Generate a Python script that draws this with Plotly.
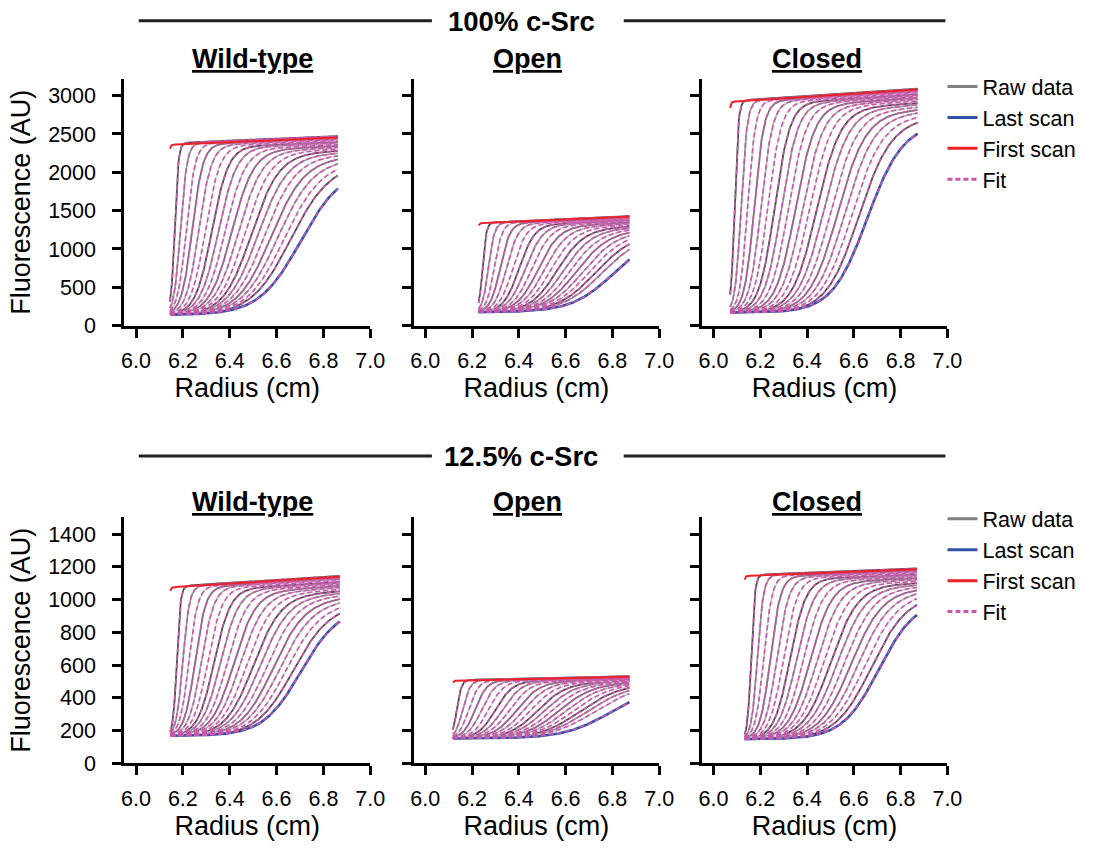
import numpy as np
import plotly.graph_objects as go

# ---------------- data ----------------
row_titles = ["100% c-Src", "12.5% c-Src"]
panel_titles = ["Wild-type", "Open", "Closed"]
x_ticks = [6.0, 6.2, 6.4, 6.6, 6.8, 7.0]
y_ticks_top = [0, 500, 1000, 1500, 2000, 2500, 3000]
y_ticks_bottom = [0, 200, 400, 600, 800, 1000, 1200, 1400]
legend_names = ["Raw data", "Last scan", "First scan", "Fit"]

# per panel: WT100, Open100, Closed100, WT12.5, Open12.5, Closed12.5
meniscus_r = [6.145, 6.228, 6.071, 6.146, 6.118, 6.133]
bottom_r = [6.862, 6.873, 6.873, 6.870, 6.873, 6.870]
baseline = [140, 175, 170, 168, 152, 148]
plateau_slope = [130, 135, 200, 90, 33, 55]          # AU per cm along the cell
first_scan_mid = [6.130, 6.213, 6.057, 6.131, 6.104, 6.118]
first_scan_plateau = [2360, 1335, 2920, 1075, 505, 1145]

mids_wt100 = [6.165, 6.19, 6.215, 6.24, 6.268, 6.296, 6.324, 6.352, 6.38, 6.408,
              6.436, 6.464, 6.492, 6.52, 6.548, 6.576, 6.604, 6.632, 6.658, 6.70]
widths_wt100 = [0.008, 0.014, 0.019, 0.023, 0.027, 0.031, 0.035, 0.039, 0.043, 0.047,
                0.051, 0.055, 0.059, 0.063, 0.067, 0.071, 0.075, 0.079, 0.083, 0.088]
plateaus_wt100 = [2380, 2370, 2360, 2350, 2335, 2320, 2305, 2290, 2270, 2250,
                  2230, 2210, 2190, 2165, 2140, 2110, 2080, 2050, 2020, 1960]

mids_open100 = [6.245, 6.27, 6.295, 6.32, 6.347, 6.374, 6.401, 6.428, 6.455, 6.482, 6.509,
                6.536, 6.563, 6.59, 6.617, 6.644, 6.671, 6.698, 6.725, 6.752, 6.80]
widths_open100 = [0.008, 0.013, 0.017, 0.021, 0.025, 0.029, 0.033, 0.037, 0.041, 0.045, 0.049,
                  0.053, 0.057, 0.061, 0.065, 0.069, 0.073, 0.077, 0.081, 0.085, 0.090]
plateaus_open100 = [1340, 1335, 1330, 1320, 1310, 1300, 1290, 1280, 1270, 1255, 1240,
                    1225, 1210, 1195, 1180, 1165, 1150, 1135, 1120, 1105, 1080]

mids_closed100 = [6.09, 6.118, 6.146, 6.174, 6.203, 6.232, 6.261, 6.29, 6.32, 6.35,
                  6.38, 6.41, 6.44, 6.47, 6.5, 6.53, 6.56, 6.59, 6.62, 6.655]
widths_closed100 = [0.008, 0.013, 0.017, 0.021, 0.025, 0.029, 0.033, 0.036, 0.039, 0.042,
                    0.045, 0.048, 0.051, 0.054, 0.057, 0.060, 0.063, 0.066, 0.069, 0.075]
plateaus_closed100 = [2930, 2920, 2910, 2900, 2890, 2875, 2860, 2845, 2830, 2810,
                      2790, 2770, 2745, 2720, 2690, 2660, 2630, 2590, 2550, 2470]

mids_wt12 = [6.174, 6.2, 6.226, 6.252, 6.279, 6.306, 6.333, 6.36, 6.388, 6.416,
             6.444, 6.472, 6.5, 6.528, 6.556, 6.584, 6.612, 6.64, 6.668, 6.70]
widths_wt12 = [0.008, 0.014, 0.019, 0.023, 0.027, 0.031, 0.035, 0.039, 0.043, 0.047,
               0.051, 0.055, 0.059, 0.062, 0.065, 0.068, 0.071, 0.074, 0.077, 0.080]
plateaus_wt12 = [1080, 1075, 1070, 1065, 1060, 1052, 1044, 1036, 1028, 1018,
                 1008, 998, 988, 976, 964, 950, 936, 920, 904, 885]

mids_open12 = [6.135, 6.16, 6.186, 6.213, 6.241, 6.27, 6.3, 6.33, 6.36, 6.39, 6.42,
               6.45, 6.48, 6.51, 6.54, 6.57, 6.6, 6.63, 6.66, 6.69, 6.72, 6.79]
widths_open12 = [0.010, 0.016, 0.021, 0.025, 0.029, 0.033, 0.037, 0.041, 0.045, 0.049, 0.053,
                 0.057, 0.061, 0.065, 0.069, 0.073, 0.077, 0.081, 0.085, 0.089, 0.093, 0.100]
plateaus_open12 = [508, 506, 504, 502, 500, 498, 496, 494, 492, 489, 486,
                   483, 480, 477, 474, 471, 468, 465, 462, 458, 454, 446]

mids_closed12 = [6.161, 6.188, 6.215, 6.243, 6.271, 6.299, 6.327, 6.355, 6.384, 6.413,
                 6.442, 6.471, 6.5, 6.529, 6.558, 6.587, 6.616, 6.645, 6.674, 6.705]
widths_closed12 = [0.008, 0.013, 0.018, 0.022, 0.026, 0.030, 0.034, 0.038, 0.042, 0.046,
                   0.050, 0.054, 0.058, 0.061, 0.064, 0.067, 0.070, 0.073, 0.076, 0.078]
plateaus_closed12 = [1150, 1145, 1140, 1135, 1128, 1121, 1114, 1106, 1098, 1090,
                     1081, 1072, 1062, 1052, 1041, 1030, 1018, 1005, 990, 958]

scan_mids = [mids_wt100, mids_open100, mids_closed100, mids_wt12, mids_open12, mids_closed12]
scan_widths = [widths_wt100, widths_open100, widths_closed100, widths_wt12, widths_open12, widths_closed12]
scan_plateaus = [plateaus_wt100, plateaus_open100, plateaus_closed100,
                 plateaus_wt12, plateaus_open12, plateaus_closed12]

# ---------------- styling ----------------
W, H = 1106, 849
FONT = "Arial, Liberation Sans, Helvetica, sans-serif"
RAW_SHADES = ["#4a4a4a", "#9a9a9a", "#cfcfcf", "#737373", "#b4b4b4", "#e2e2e2"]
RAW_LEG = "#808080"
BLUE = "#3150a8"
RED = "#ea2228"
FIT = "#c858ac"
FIT_DASH = "5px,3px"


def px_x(px):
    return px / W


def px_y(py):
    return 1 - py / H


x_dom_px = [(123.3, 373.3), (417.4, 667.0), (710.4, 960.0)]
y_dom_px = [(80.0, 330.7), (525.0, 775.3)]
y_ranges = [[0, 3220], [0, 1505]]
y_tick_sets = [y_ticks_top, y_ticks_bottom]


def boundary(r, r_m, base, plateau, slope, mid, width):
    top = plateau + slope * (r - r_m)
    return base + (top - base) / (1.0 + np.exp(-(r - mid) / width))


fig = go.Figure()

for p in range(6):
    row, col = divmod(p, 3)
    sfx = "" if p == 0 else str(p + 1)
    xa, ya = "x" + sfx, "y" + sfx
    r = np.linspace(meniscus_r[p], bottom_r[p], 260)
    mids, wids, plats = scan_mids[p], scan_widths[p], scan_plateaus[p]
    n = len(mids)

    # raw data (gray), grouped by shade
    for k, shade in enumerate(RAW_SHADES):
        xs, ys = [], []
        for i in range(k, n - 1, len(RAW_SHADES)):
            y = boundary(r, meniscus_r[p], baseline[p], plats[i], plateau_slope[p], mids[i], wids[i])
            xs += list(r) + [None]
            ys += list(y) + [None]
        fig.add_trace(go.Scatter(x=xs, y=ys, mode="lines", xaxis=xa, yaxis=ya,
                                 line=dict(color=shade, width=1.8), showlegend=False,
                                 hoverinfo="skip"))
    # last scan (blue)
    y_last = boundary(r, meniscus_r[p], baseline[p], plats[-1], plateau_slope[p], mids[-1], wids[-1])
    fig.add_trace(go.Scatter(x=r, y=y_last, mode="lines", xaxis=xa, yaxis=ya,
                             line=dict(color=BLUE, width=2.6), showlegend=False))
    # fits
    xs, ys = [], []
    for i in range(n):
        y = boundary(r, meniscus_r[p], baseline[p], plats[i], plateau_slope[p], mids[i], wids[i])
        xs += list(r) + [None]
        ys += list(y) + [None]
    fig.add_trace(go.Scatter(x=xs, y=ys, mode="lines", xaxis=xa, yaxis=ya,
                             line=dict(color=FIT, width=1.6, dash=FIT_DASH), showlegend=False))
    # first scan (red)
    y_first = boundary(r, meniscus_r[p], baseline[p], first_scan_plateau[p], plateau_slope[p],
                       first_scan_mid[p], 0.004)
    fig.add_trace(go.Scatter(x=r, y=y_first, mode="lines", xaxis=xa, yaxis=ya,
                             line=dict(color=RED, width=2), showlegend=False))

    # legend keys (one set per row)
    if col == 2:
        leg = "legend" if row == 0 else "legend2"
        for name, color, dash in zip(legend_names, [RAW_LEG, BLUE, RED, FIT],
                                     ["solid", "solid", "solid", FIT_DASH]):
            fig.add_trace(go.Scatter(x=[None], y=[None], mode="lines", xaxis=xa, yaxis=ya,
                                     line=dict(color=color, width=3, dash=dash),
                                     name=name, legend=leg, showlegend=True))

    axis_common = dict(showline=True, linecolor="black", linewidth=3, ticks="outside",
                       tickcolor="black", tickwidth=2.5, showgrid=False, zeroline=False,
                       tickfont=dict(family=FONT, size=21.5, color="black"))
    fig.layout[("xaxis" + sfx)] = dict(
        domain=[px_x(x_dom_px[col][0]), px_x(x_dom_px[col][1])], anchor=ya,
        range=[5.95, 7.0], tickvals=x_ticks, ticktext=[f"{v:.1f}" for v in x_ticks],
        ticklen=9, ticklabelstandoff=5,
        title=dict(text="Radius (cm)", font=dict(family=FONT, size=27, color="black"), standoff=4),
        **axis_common)
    yt = y_tick_sets[row]
    fig.layout[("yaxis" + sfx)] = dict(
        domain=[px_y(y_dom_px[row][1]), px_y(y_dom_px[row][0])], anchor=xa,
        range=y_ranges[row], tickvals=yt, ticktext=[str(v) for v in yt],
        ticklen=9, ticklabelstandoff=12, showticklabels=(col == 0),
        title=dict(text="Fluorescence (AU)" if col == 0 else "",
                   font=dict(family=FONT, size=27, color="black"), standoff=10),
        **axis_common)

annotations = []
shapes = []
# row headers with side rules
for row, (title, yc) in enumerate(zip(row_titles, [22, 464])):
    annotations.append(dict(text=f"<b>{title}</b>", x=px_x(527), y=px_y(yc), xref="paper",
                            yref="paper", showarrow=False, xanchor="center", yanchor="middle",
                            font=dict(family=FONT, size=27.5, color="black")))
    for x0, x1 in [(138, 436), (631, 958)]:
        shapes.append(dict(type="line", xref="paper", yref="paper", x0=px_x(x0), x1=px_x(x1),
                           y0=px_y(yc - 1), y1=px_y(yc - 1), line=dict(color="#222222", width=3)))
# panel titles
for row, yc in enumerate([60, 510]):
    for col, (title, xc) in enumerate(zip(panel_titles, [254, 533, 827.5])):
        annotations.append(dict(text=f"<b>{title}</b>", x=px_x(xc), y=px_y(yc), xref="paper",
                                yref="paper", showarrow=False, xanchor="center", yanchor="middle",
                                font=dict(family=FONT, size=27, color="black",
                                          lineposition="under")))

legend_style = dict(xref="paper", yref="paper", xanchor="left", yanchor="top",
                    bgcolor="rgba(0,0,0,0)", borderwidth=0,
                    font=dict(family=FONT, size=21.5, color="black"), tracegroupgap=0)
fig.update_layout(
    width=W, height=H, margin=dict(l=0, r=0, t=0, b=0),
    paper_bgcolor="white", plot_bgcolor="white",
    showlegend=True,
    legend=dict(x=px_x(955), y=px_y(67), **legend_style),
    legend2=dict(x=px_x(955), y=px_y(506), **legend_style),
    annotations=annotations, shapes=shapes,
    font=dict(family=FONT, color="black"),
)

fig.write_html(
    "out.html",
    config={"displayModeBar": False},
    post_script="document.body.style.margin='0px';"
                "document.documentElement.style.overflow='hidden';"
                "document.body.style.overflow='hidden';",
)
